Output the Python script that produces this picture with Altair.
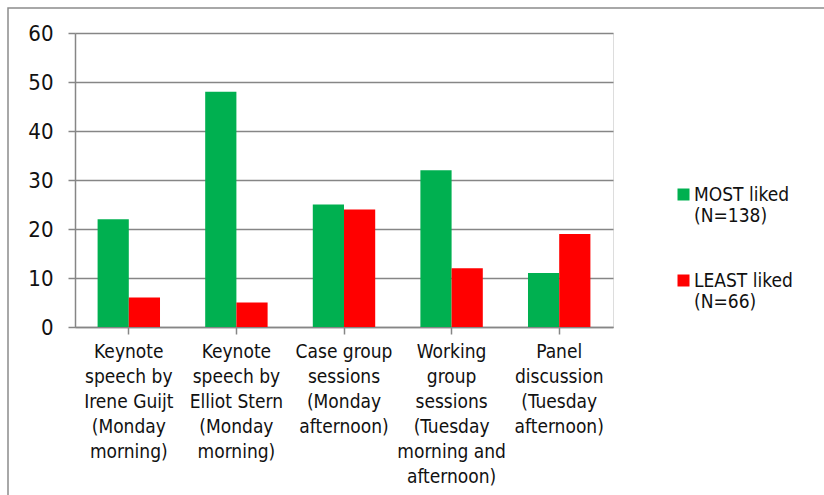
import altair as alt
import pandas as pd

categories = [
    "Keynote|speech by|Irene Guijt|(Monday|morning)",
    "Keynote|speech by|Elliot Stern|(Monday|morning)",
    "Case group|sessions|(Monday|afternoon)",
    "Working|group|sessions|(Tuesday|morning and|afternoon)",
    "Panel|discussion|(Tuesday|afternoon)",
]
series = ["MOST liked|(N=138)", "LEAST liked|(N=66)"]
most_liked = [22, 48, 25, 32, 11]
least_liked = [6, 5, 24, 12, 19]
colors = ["#00B050", "#FF0000"]

rows = []
for c, m, l in zip(categories, most_liked, least_liked):
    rows.append({"category": c, "series": series[0], "value": m})
    rows.append({"category": c, "series": series[1], "value": l})
df = pd.DataFrame(rows)

FONT = "DejaVu Sans Condensed, Liberation Sans Narrow, sans-serif"
GRAY = "#868686"

bars = alt.Chart(df).mark_bar(stroke=None).encode(
    x=alt.X(
        "category:N",
        sort=categories,
        title=None,
        scale=alt.Scale(paddingInner=0.42, paddingOuter=0.21),
        axis=alt.Axis(
            labelAngle=0,
            labelExpr="split(datum.label, '|')",
            labelLimit=0,
            labelFontSize=19,
            labelLineHeight=25,
            labelPadding=8,
            labelBaseline="top",
            tickSize=7,
            tickColor=GRAY,
            tickWidth=1.5,
            domainColor=GRAY,
            domainWidth=1.5,
            grid=False,
        ),
    ),
    xOffset=alt.XOffset("series:N", sort=series, scale=alt.Scale(paddingInner=0, paddingOuter=0)),
    y=alt.Y(
        "value:Q",
        title=None,
        scale=alt.Scale(domain=[0, 60], nice=False),
        axis=alt.Axis(
            values=[0, 10, 20, 30, 40, 50, 60],
            labelFontSize=22,
            labelPadding=15,
            tickSize=7,
            tickColor=GRAY,
            tickWidth=1.5,
            domainColor=GRAY,
            domainWidth=1.5,
            gridColor=GRAY,
            gridWidth=1.5,
        ),
    ),
    color=alt.Color(
        "series:N",
        sort=series,
        scale=alt.Scale(domain=series, range=colors),
        legend=alt.Legend(
            title=None,
            orient="none",
            legendX=599,
            legendY=152,
            symbolType="square",
            symbolSize=144,
            symbolStrokeWidth=0,
            labelExpr="split(datum.label, '|')",
            labelFontSize=19,
            labelBaseline="middle",
            labelOffset=1,
            labelLimit=0,
            rowPadding=45,
        ),
    ),
)

border = alt.Chart(pd.DataFrame({"a": [0]})).mark_rect(
    fill=None, stroke="#8c8c8c", strokeWidth=1.5
).encode(
    x=alt.value(-67), x2=alt.value(780), y=alt.value(-25), y2=alt.value(500)
)

chart = alt.layer(border, bars).properties(
    width=538,
    height=294,
    autosize=alt.AutoSizeParams(type="none"),
    padding={"left": 75, "top": 33, "right": 211, "bottom": 168},
    background="white",
).configure_view(stroke=None).configure(
    font=FONT
).configure_axis(
    labelFont=FONT, labelColor="#111111"
).configure_legend(
    labelFont=FONT, labelColor="#111111"
)

chart.save("out.html", embed_options={"renderer": "svg", "actions": False})
